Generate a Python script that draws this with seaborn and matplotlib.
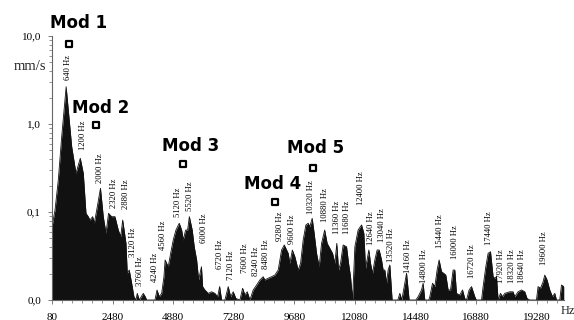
import numpy as np
import pandas as pd
import matplotlib
matplotlib.use("Agg")
import matplotlib.pyplot as plt
import matplotlib.ticker as mticker
import seaborn as sns

# ---- data ----
freq_hz = [
    80, 199, 329, 464, 640, 725, 860, 1030, 1200, 1320,
    1426, 1517, 1584, 1691, 1755, 1850, 2000, 2111, 2218, 2320,
    2444, 2574, 2705, 2800, 2880, 3010, 3061, 3140, 3235, 3326,
    3405, 3457, 3536, 3695, 3774, 3829, 4158, 4240, 4328, 4423,
    4514, 4560, 4684, 4779, 4882, 4989, 5120, 5215, 5278, 5373,
    5452, 5520, 5634, 5714, 5809, 5888, 6000, 6046, 6137, 6268,
    6402, 6533, 6640, 6720, 6798, 6929, 7060, 7155, 7258, 7365,
    7523, 7630, 7721, 7812, 7919, 8050, 8184, 8315, 8445, 8512,
    8643, 8778, 8908, 9039, 9174, 9280, 9435, 9502, 9600, 9700,
    9831, 9926, 10029, 10136, 10227, 10294, 10385, 10464, 10559, 10662,
    10757, 10880, 10979, 11086, 11193, 11284, 11360, 11430, 11509, 11612,
    11747, 11826, 11905, 11985, 12076, 12206, 12341, 12432, 12499, 12630,
    12697, 12776, 12867, 12958, 13040, 13133, 13196, 13263, 13330, 13394,
    13461, 13552, 13778, 13857, 13936, 14055, 14123, 14226, 14491, 14582,
    14716, 14780, 14847, 15005, 15045, 15152, 15243, 15334, 15413, 15508,
    15599, 15679, 15770, 15865, 15968, 16035, 16102, 16233, 16340, 16431,
    16498, 16601, 16696, 16827, 16887, 17093, 17156, 17263, 17354, 17449,
    17552, 17619, 17686, 17750, 17845, 17924, 18015, 18213, 18343, 18411,
    18541, 18676, 18806, 18897, 19004, 19269, 19333, 19428, 19531, 19598,
    19689, 19796, 19903, 19994, 20062, 20192, 20260, 20351,
]
amp_mms = [
    0.068, 0.105, 0.231, 0.718, 2.65, 1.44, 0.552, 0.275, 0.408, 0.275,
    0.0966, 0.0885, 0.081, 0.0885, 0.0745, 0.105, 0.186, 0.0885, 0.0573, 0.0966,
    0.0885, 0.0885, 0.0624, 0.0525, 0.081, 0.044, 0.0201, 0.0219, 0.0155, 0.0109,
    0, 0.0119, 0, 0.0119, 0.0109, 0, 0, 0.013, 0.0109, 0.0119,
    0.0184, 0.0285, 0.0239, 0.0339, 0.0481, 0.0624, 0.0745, 0.0624, 0.0481, 0.0624,
    0.0624, 0.0885, 0.0624, 0.0403, 0.0285, 0.0169, 0.0239, 0.0142, 0.013, 0.0119,
    0.0124, 0.0119, 0.0109, 0.0142, 0, 0, 0.0142, 0.0109, 0.0124, 0.0104,
    0, 0.0136, 0.0114, 0.0124, 0, 0.013, 0.0148, 0.0169, 0.0184, 0.0169,
    0.0177, 0.0184, 0.0192, 0.0219, 0.037, 0.0422, 0.0339, 0.0261, 0.037, 0.031,
    0.0219, 0.0261, 0.0481, 0.0712, 0.0745, 0.068, 0.0848, 0.0573, 0.0339, 0.0239,
    0.044, 0.0624, 0.044, 0.0387, 0.0339, 0.0261, 0.044, 0.0219, 0.0261, 0.0422,
    0.0403, 0.0261, 0.0184, 0, 0.0403, 0.0624, 0.0712, 0.0573, 0.0229, 0.037,
    0.0261, 0.0201, 0.0285, 0.037, 0.037, 0.0285, 0.0219, 0.0219, 0.0155, 0.0219,
    0.025, 0, 0, 0.0119, 0, 0.0155, 0.0201, 0, 0, 0.0109,
    0.013, 0.0155, 0, 0, 0.0109, 0.0155, 0.0142, 0.0219, 0.0285, 0.021,
    0.0201, 0.0192, 0.013, 0.013, 0.0219, 0.0219, 0.0119, 0.0114, 0.013, 0.0104,
    0, 0.013, 0.0142, 0.0109, 0, 0, 0.0142, 0.0239, 0.0339, 0.0354,
    0.0184, 0.0177, 0.0184, 0, 0.0119, 0.0109, 0.0119, 0.0124, 0.0124, 0.0109,
    0.0124, 0.013, 0.0124, 0.0104, 0, 0, 0.0142, 0.0136, 0.0161, 0.0192,
    0.0169, 0.013, 0.0109, 0.0119, 0, 0, 0.0148, 0.0142,
]

peak_labels = [640, 1200, 2000, 2320, 2880, 3120, 3760, 4240, 4560, 5120,
               5520, 6000, 6720, 7120, 7600, 8240, 8480, 9280, 9600, 10320,
               10880, 11360, 11680, 12400, 12640, 13040, 13520, 14160, 14800,
               15440, 16000, 16720, 17440, 17920, 18320, 18640, 19600]
# height (mm/s) where each rotated label starts
peak_label_anchor = [3.16, 0.507, 0.214, 0.111, 0.108, 0.0308, 0.0144, 0.016, 0.037, 0.0877,
                     0.1026, 0.0444, 0.0225, 0.0169, 0.0203, 0.0187, 0.0225, 0.0468, 0.0433, 0.0948,
                     0.077, 0.0562, 0.0562, 0.12, 0.0422, 0.0456, 0.027, 0.0203, 0.0156,
                     0.039, 0.0292, 0.0178, 0.0422, 0.0156, 0.0156, 0.0156, 0.025]
# small sideways nudge of each label (points)
peak_label_nudge = [1.6, 1.8, -0.4, 4.0, 2.4, 3.4, -3.3, -1.5, -1.7, -0.9,
                    0.8, 1.8, 0.0, 1.1, 2.2, -1.2, 1.5, -2.8, -0.6, 0.0,
                    0.0, 0.4, 1.4, -1.4, 1.7, 1.7, 0.0, 0.5, 0.0,
                    0.0, 1.0, 0.0, -0.7, -1.1, 0.0, 0.7, -0.6]

mode_names = ["Mod 1", "Mod 2", "Mod 3", "Mod 4", "Mod 5"]
mode_freq = [765, 1810, 5280, 8910, 10430]
mode_amp = [8.05, 0.975, 0.348, 0.131, 0.318]

xtick_vals = [80, 2480, 4880, 7280, 9680, 12080, 14480, 16880, 19280]
ytick_vals = [0.01, 0.1, 1, 10]
ytick_text = ["0,0", "0,1", "1,0", "10,0"]

# ---- figure ----
sns.set_theme(style="ticks")
plt.rcParams["font.family"] = ["Liberation Serif", "DejaVu Serif"]

fig = plt.figure(figsize=(5.74, 3.20), dpi=100)
ax = fig.add_axes([52 / 574, 20 / 320, 512 / 574, 264 / 320])

FLOOR = 0.01
df = pd.DataFrame({"f": freq_hz, "a": np.maximum(np.array(amp_mms, float), FLOOR)})
ink = "#111111"
ax.fill_between(df["f"], FLOOR, df["a"], color=ink, linewidth=0)
sns.lineplot(data=df, x="f", y="a", ax=ax, color=ink, lw=0.6,
             estimator=None, sort=False)

ax.set_yscale("log")
ax.set_ylim(0.01, 10)
ax.set_xlim(80, 20360)

ax.set_yticks(ytick_vals)
ax.set_yticklabels(ytick_text)
ax.yaxis.set_minor_locator(mticker.LogLocator(base=10, subs=np.arange(2, 10)))
ax.yaxis.set_minor_formatter(mticker.NullFormatter())
ax.set_xticks(xtick_vals)
ax.set_xticklabels([str(v) for v in xtick_vals])
ax.xaxis.set_minor_locator(mticker.FixedLocator(np.arange(80, 20360, 400)))

ax.set_xlabel("")
ax.set_ylabel("")
for s in ["top", "right"]:
    ax.spines[s].set_visible(False)
for s in ["left", "bottom"]:
    ax.spines[s].set_color("#666666")
    ax.spines[s].set_linewidth(0.8)
ax.tick_params(axis="both", which="major", length=3, width=0.6, color="#666666",
               labelsize=8, labelcolor="black")
ax.tick_params(axis="both", which="minor", length=2, width=0.5, color="#666666")
ax.tick_params(axis="x", pad=6)
ax.tick_params(axis="y", pad=5)

# peak frequency labels
for f, y, dx in zip(peak_labels, peak_label_anchor, peak_label_nudge):
    ax.annotate(f"{f} Hz", xy=(f, y), xytext=(dx, 0), textcoords="offset points",
                rotation=90, ha="center", va="bottom",
                fontsize=6.2, family="Liberation Serif", color="black")

# mode markers and titles
mode_offsets = [(7, 11.5), (3.8, 8.4), (5.2, 9.8), (-1.8, 8.9), (1.6, 10.8)]
sns.scatterplot(x=mode_freq, y=mode_amp, ax=ax, marker="s", s=22,
                facecolor="white", edgecolor="black", linewidth=1.6, zorder=5)
for name, f, a, off in zip(mode_names, mode_freq, mode_amp, mode_offsets):
    ax.annotate(name, xy=(f, a), xytext=off, textcoords="offset points",
                ha="center", va="baseline", fontsize=12, fontweight="bold",
                family="DejaVu Sans", color="black")

fig.text(30 / 574, 1 - 66 / 320, "mm/s", ha="center", va="center", fontsize=10.5)
fig.text(568 / 574, 1 - 311 / 320, "Hz", ha="center", va="center", fontsize=9)

fig.savefig("out.png", dpi=100, facecolor="white")
